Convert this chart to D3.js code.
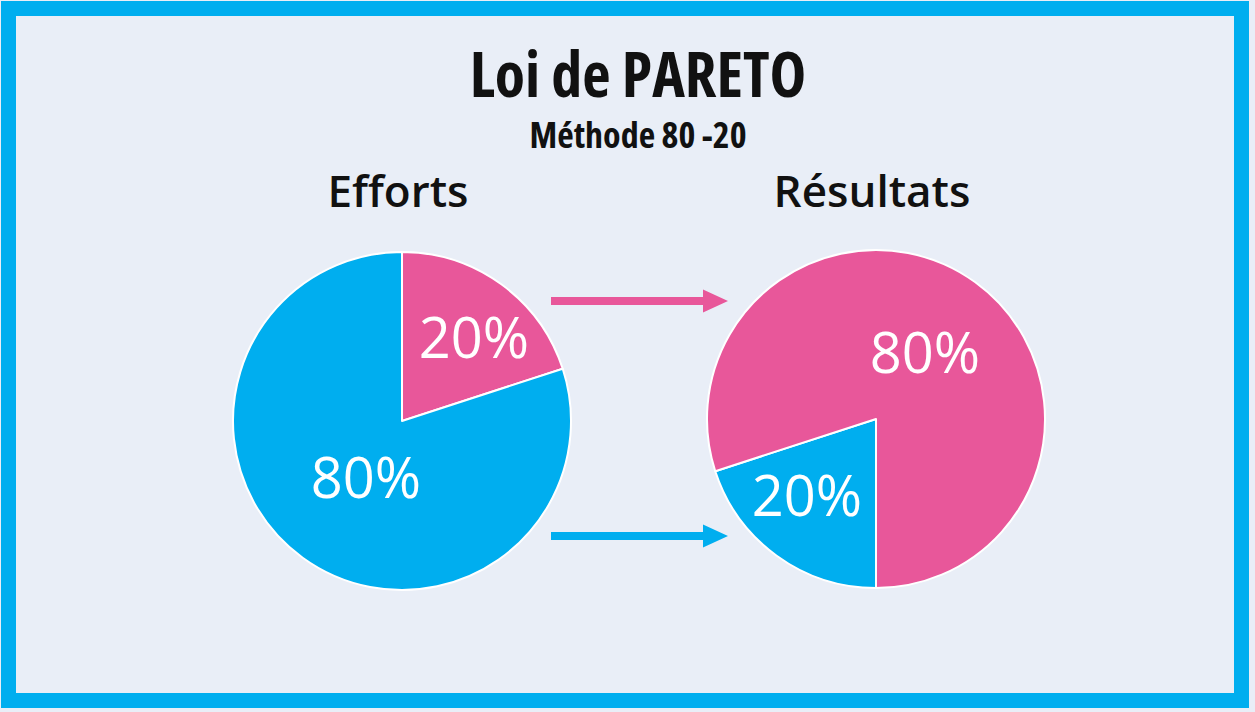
<!DOCTYPE html>
<html>
<head>
<meta charset="utf-8">
<script src="https://cdn.jsdelivr.net/npm/d3@7"></script>
<style>
  html, body { margin: 0; padding: 0; background: #e9eef7; }
  svg { display: block; }
  .title { font-family: "Open Sans", "Liberation Sans Narrow", sans-serif; font-weight: 700; font-stretch: condensed; }
  .head { font-family: "Open Sans", sans-serif; font-weight: 600; }
  .pct { font-family: "Open Sans", sans-serif; font-weight: 400; fill: #fff; }
</style>
</head>
<body>
<div id="chart"></div>
<script>
// Pareto 80/20 — two pies linked by arrows
const TITLE = 'Loi de PARETO';
const SUBTITLE = 'Méthode 80 -20';

const pieTitles = ['Efforts', 'Résultats'];
const categories = ['vital', 'reste'];
const effortsValues = [20, 80];    // pink, blue
const resultatsValues = [80, 20];  // pink, blue

const PINK = '#e8579a';
const BLUE = '#00aeef';
const BG = '#e9eef7';

const W = 1255, H = 712;
const R = 169;

const svg = d3.select('#chart').append('svg')
  .attr('width', W)
  .attr('height', H);

// frame
svg.append('rect')
  .attr('x', 8.5).attr('y', 8.5)
  .attr('width', W - 22).attr('height', H - 20)
  .attr('fill', BG)
  .attr('stroke', BLUE)
  .attr('stroke-width', 15);

// titles
svg.append('text')
  .attr('class', 'title')
  .attr('x', 638).attr('y', 97)
  .attr('text-anchor', 'middle')
  .attr('font-size', 62)
  .attr('fill', '#111')
  .text(TITLE);

svg.append('text')
  .attr('class', 'title')
  .attr('x', 638).attr('y', 148)
  .attr('text-anchor', 'middle')
  .attr('font-size', 36)
  .attr('fill', '#111')
  .text(SUBTITLE);

const colorOf = d3.scaleOrdinal().domain(categories).range([PINK, BLUE]);

const arc = d3.arc().innerRadius(0).outerRadius(R);

// left: pink starts at 12 o'clock; right: blue starts at 6 o'clock
// labelAt: label centre offset from the pie centre, per category
const pies = [
  { title: pieTitles[0], values: effortsValues, cx: 402, cy: 421,
    order: [0, 1], start: 0, labelAt: [[72, -83], [-36, 57]] },
  { title: pieTitles[1], values: resultatsValues, cx: 876, cy: 419,
    order: [1, 0], start: Math.PI, labelAt: [[49, -66], [-69, 77]] }
];

pies.forEach(p => {
  const g = svg.append('g').attr('transform', `translate(${p.cx},${p.cy})`);

  const rows = p.order.map(i => ({ cat: categories[i], value: p.values[i], idx: i }));
  const arcs = d3.pie()
    .sort(null)
    .value(d => d.value)
    .startAngle(p.start)
    .endAngle(p.start + 2 * Math.PI)(rows);

  g.selectAll('path.slice')
    .data(arcs)
    .enter()
    .append('path')
    .attr('class', 'slice')
    .attr('d', arc)
    .attr('fill', d => colorOf(d.data.cat))
    .attr('stroke', '#fff')
    .attr('stroke-width', 2)
    .attr('stroke-linejoin', 'round');

  g.selectAll('text.pct')
    .data(arcs)
    .enter()
    .append('text')
    .attr('class', 'pct')
    .attr('transform', d => {
      const c = p.labelAt[d.data.idx];
      return `translate(${c[0]},${c[1]})`;
    })
    .attr('text-anchor', 'middle')
    .attr('dy', '0.36em')
    .attr('font-size', 56)
    .text(d => d.data.value + '%');

  svg.append('text')
    .attr('class', 'head')
    .attr('x', p.cx - 4).attr('y', 207)
    .attr('text-anchor', 'middle')
    .attr('font-size', 44)
    .attr('fill', '#111')
    .text(p.title);
});

// arrows between the pies
const arrows = [
  { y: 301, color: PINK },
  { y: 536, color: BLUE }
];
const x0 = 551, x1 = 728, shaft = 4, headLen = 25, headHalf = 11.5;
arrows.forEach(a => {
  const pts = [
    [x0, a.y - shaft], [x1 - headLen, a.y - shaft], [x1 - headLen, a.y - headHalf],
    [x1, a.y], [x1 - headLen, a.y + headHalf], [x1 - headLen, a.y + shaft], [x0, a.y + shaft]
  ];
  svg.append('path')
    .attr('d', d3.line()(pts) + 'Z')
    .attr('fill', a.color);
});
</script>
</body>
</html>
